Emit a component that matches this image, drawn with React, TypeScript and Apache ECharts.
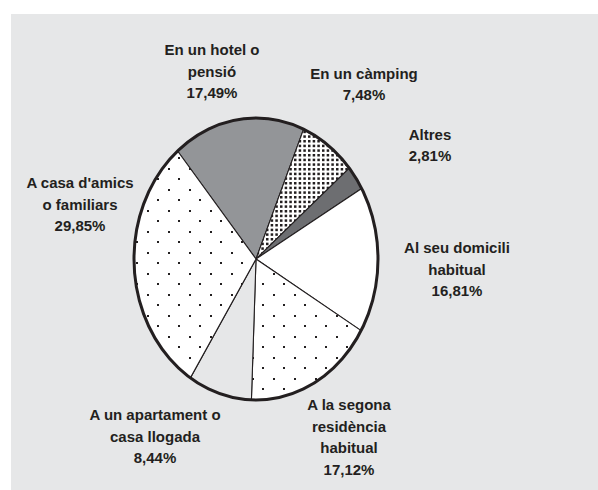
import React, { useEffect, useRef } from 'react';
import * as echarts from 'echarts';

// ---- data ----
const categories = [
  'En un hotel o pensió',
  'En un càmping',
  'Altres',
  'Al seu domicili habitual',
  'A la segona residència habitual',
  'A un apartament o casa llogada',
  "A casa d'amics o familiars",
];
const labelLines = [
  ['En un hotel o', 'pensió'],
  ['En un càmping'],
  ['Altres'],
  ['Al seu domicili', 'habitual'],
  ['A la segona', 'residència', 'habitual'],
  ['A un apartament o', 'casa llogada'],
  ["A casa d'amics", 'o familiars'],
];
const values = [17.49, 7.48, 2.81, 16.81, 17.12, 8.44, 29.85];

// ---- layout (pixels) ----
const CX = 256;
const CY = 259;
const RX = 122;
const RY = 141;
const START = -40; // degrees, clockwise from 12 o'clock
const labelPos: [number, number][] = [
  [212, 71],
  [364, 84],
  [430, 145],
  [457, 269],
  [349, 437],
  [155, 436],
  [80, 204],
];

const INK = '#231f20';
const BG = '#e6e7e8';

function makePattern(w: number, h: number, dots: [number, number][], size: number) {
  const c = document.createElement('canvas');
  c.width = w;
  c.height = h;
  const ctx = c.getContext('2d')!;
  ctx.fillStyle = '#ffffff';
  ctx.fillRect(0, 0, w, h);
  ctx.fillStyle = INK;
  dots.forEach(([x, y]) => ctx.fillRect(x, y, size, size));
  return { image: c, repeat: 'repeat', imageWidth: w, imageHeight: h } as any;
}

export default function App() {
  const ref = useRef<HTMLDivElement>(null);
  useEffect(() => {
    document.body.style.margin = '0';
    const chart = echarts.init(ref.current!, null, { renderer: 'svg' });
    const sparse = makePattern(21, 21, [[0, 0], [10, 10]], 2);
    const dense = makePattern(
      14,
      14,
      [
        [0, 0], [4.67, 0], [9.33, 0],
        [0, 4.67], [4.67, 4.67], [9.33, 4.67],
        [0, 9.33], [4.67, 9.33], [9.33, 9.33],
      ],
      2.5
    );
    const fills: any[] = ['#939598', dense, '#6d6e71', '#ffffff', sparse, BG, sparse];

    const total = values.reduce((a, b) => a + b, 0);
    const starts: number[] = [];
    let acc = 0;
    values.forEach((v) => {
      starts.push(acc);
      acc += v;
    });
    const fmt = (v: number) => v.toFixed(2).replace('.', ',') + '%';

    chart.setOption({
      animation: false,
      backgroundColor: '#ffffff',
      graphic: [
        {
          type: 'rect',
          z: -10,
          silent: true,
          shape: { x: 11, y: 14, width: 587, height: 476 },
          style: { fill: BG },
        },
      ],
      series: [
        {
          type: 'custom',
          coordinateSystem: 'none',
          silent: true,
          data: values.map((v, i) => ({ name: categories[i], value: [v] })),
          renderItem: (params: any, api: any) => {
            const i = params.dataIndex;
            const v = api.value(0);
            const a0 = START + (starts[i] / total) * 360;
            const a1 = a0 + (v / total) * 360;
            const steps = Math.max(2, Math.ceil(a1 - a0));
            const pts: number[][] = [[CX, CY]];
            for (let k = 0; k <= steps; k++) {
              const a = ((a0 + ((a1 - a0) * k) / steps) * Math.PI) / 180;
              pts.push([CX + RX * Math.sin(a), CY - RY * Math.cos(a)]);
            }
            const children: any[] = [
              {
                type: 'polygon',
                shape: { points: pts },
                style: { fill: fills[i], stroke: INK, lineWidth: 1.1, lineJoin: 'round' },
              },
              {
                type: 'text',
                x: labelPos[i][0],
                y: labelPos[i][1],
                style: {
                  text: [...labelLines[i], fmt(v)].join('\n'),
                  fill: INK,
                  font: 'bold 15px "Liberation Sans", Arial, sans-serif',
                  align: 'center',
                  verticalAlign: 'middle',
                  lineHeight: 21.5,
                },
              },
            ];
            if (i === values.length - 1) {
              children.push({
                type: 'ellipse',
                z2: 10,
                shape: { cx: CX, cy: CY, rx: RX, ry: RY },
                style: { fill: 'none', stroke: INK, lineWidth: 3 },
              });
            }
            return { type: 'group', children };
          },
        },
      ],
    });
    return () => chart.dispose();
  }, []);
  return <div ref={ref} style={{ width: 598, height: 490 }} />;
}
